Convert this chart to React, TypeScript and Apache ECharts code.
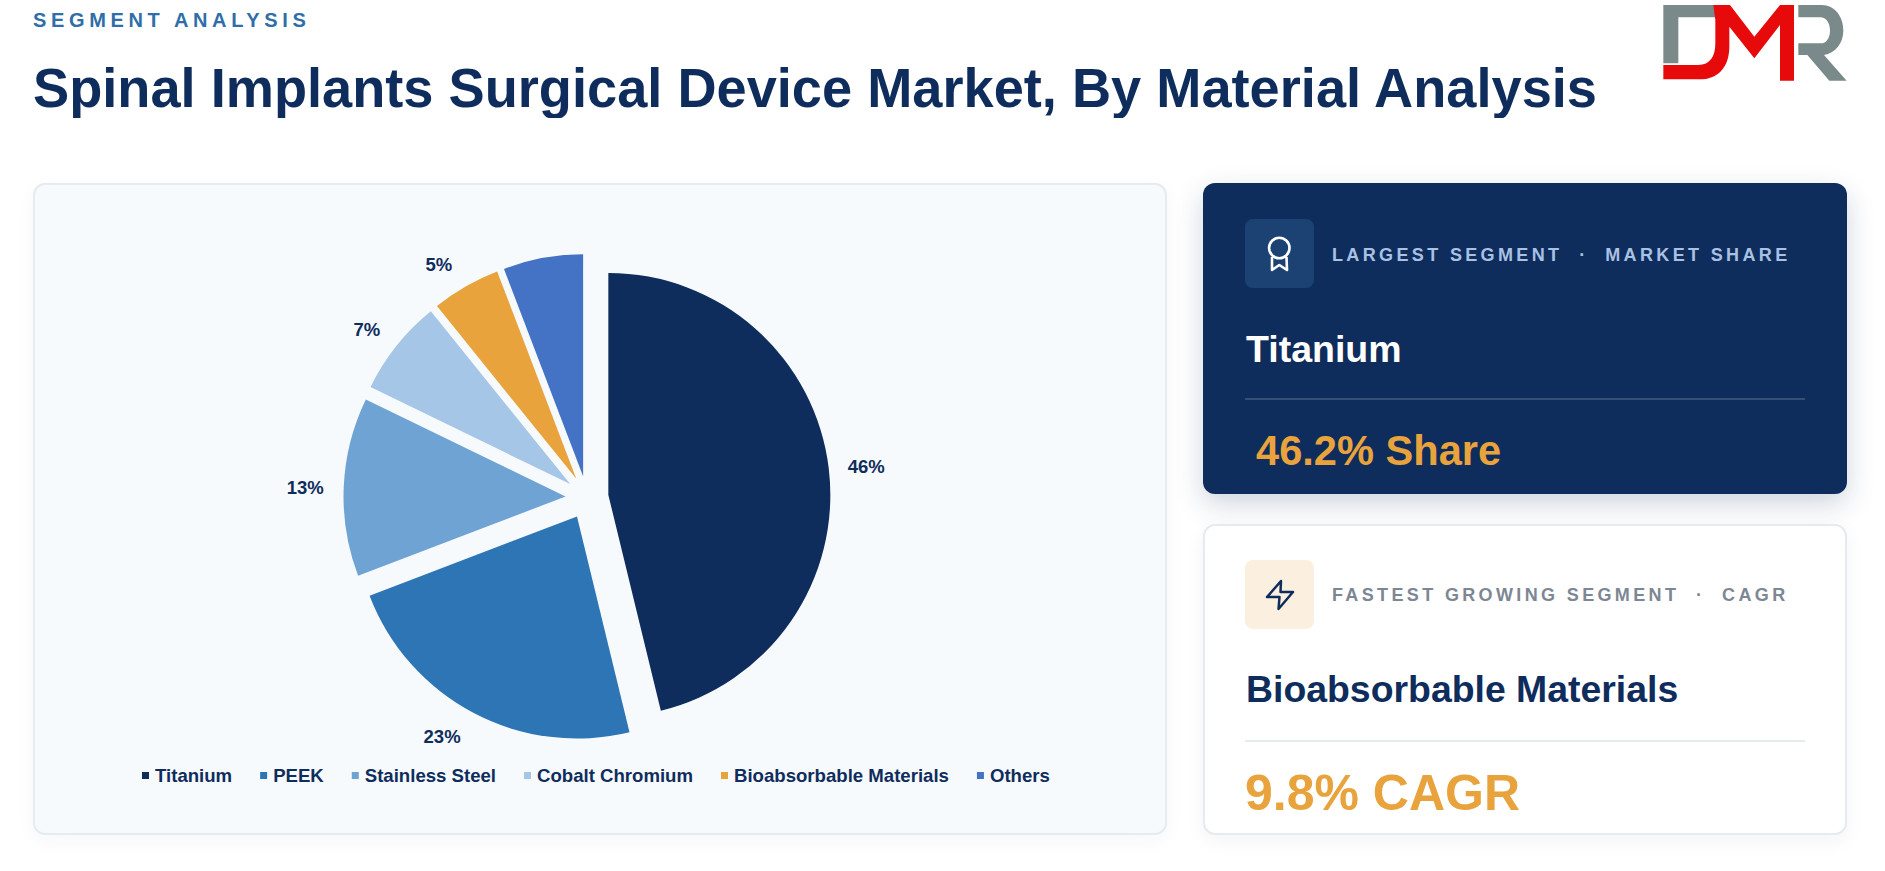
import React, { useEffect, useRef } from "react";
import * as echarts from "echarts";

const categories = ["Titanium", "PEEK", "Stainless Steel", "Cobalt Chromium", "Bioabsorbable Materials", "Others"];
const shares = [46.2, 23, 13, 7, 5, 5.8];
const colors = ["#0f2d5c", "#2e75b6", "#6fa3d4", "#a5c6e6", "#e8a33d", "#4472c4"];
const hiddenLabels = ["Others"];
const labelNudgeX = [-4, 4.5, 3, 4.5, 4.5, 0];
const labelNudgeY = [-1, 15, 1, -10, -13, 0];
const NAVY = "#0f2d5c";
const FONT = '"Liberation Sans", Arial, sans-serif';

const abs = (l: number, t: number, extra: React.CSSProperties = {}): React.CSSProperties => ({
  position: "absolute", left: l, top: t, whiteSpace: "pre", fontFamily: FONT, fontWeight: 700, ...extra,
});
const box = (l: number, t: number, w: number, h: number, extra: React.CSSProperties = {}): React.CSSProperties => ({
  position: "absolute", left: l, top: t, width: w, height: h, boxSizing: "border-box", ...extra,
});

function PieChart() {
  const ref = useRef<HTMLDivElement>(null);
  useEffect(() => {
    const chart = echarts.init(ref.current!, undefined, { renderer: "svg" });
    chart.setOption({
      animation: false,
      legend: {
        data: categories,
        left: 109,
        top: 582,
        padding: 0,
        icon: "rect",
        itemWidth: 7,
        itemHeight: 7,
        itemGap: 28,
        textStyle: { color: NAVY, fontFamily: FONT, fontWeight: 700, fontSize: 18.6, padding: [0, 0, 0, 1] },
        selectedMode: false,
      },
      series: [
        {
          type: "pie",
          center: [554, 313.5],
          radius: [0, 222],
          startAngle: 90,
          clockwise: true,
          selectedMode: "multiple",
          selectedOffset: 21.5,
          percentPrecision: 0,
          avoidLabelOverlap: false,
          label: {
            show: true,
            position: "outside",
            formatter: "{d}%",
            color: NAVY,
            fontFamily: FONT,
            fontWeight: 700,
            fontSize: 18.5,
          },
          labelLine: { show: false, length: 10, length2: 8 },
          labelLayout: (p: { dataIndex: number }) => ({ dx: labelNudgeX[p.dataIndex], dy: labelNudgeY[p.dataIndex] }),
          emphasis: { disabled: true },
          data: categories.map((name, i) => ({
            name,
            value: shares[i],
            selected: true,
            itemStyle: { color: colors[i] },
            label: { show: !hiddenLabels.includes(name) },
          })),
        },
      ],
    });
    return () => chart.dispose();
  }, []);
  return <div ref={ref} style={{ width: 1133, height: 650 }} />;
}

function Logo() {
  return (
    <svg style={{ position: "absolute", left: 1600, top: 0 }} width={285} height={120} viewBox="0 0 855 360">
      <path fill="#7a8a8a" d="M190 15 L345 15 L352 52 L235 52 L235 190 L190 190 Z" />
      <path fill="#e60a0a" d="M340 15 L390 15 L463 110 L540 15 L582 15 L582 242 L540 242 L540 75 L463 175 L388 80 L388 140 C388 205 350 238 300 238 L190 238 L190 195 L295 195 C330 195 346 170 346 130 L346 60 Z" />
      <path fill="#7a8a8a" d="M595 15 L665 15 C705 15 730 50 730 92 C730 130 705 160 672 165 L740 242 L688 242 L622 165 L595 165 L595 130 L662 130 C680 130 690 112 690 92 C690 70 680 52 660 52 L595 52 Z" />
    </svg>
  );
}

export default function App() {
  return (
    <div style={{ position: "absolute", left: 0, top: 0, width: 1885, height: 871, overflow: "hidden", background: "#ffffff" }}>
      <div style={abs(33, 9, { fontSize: 20, lineHeight: "22px", letterSpacing: 4.65, color: "#2f6ea8" })}>SEGMENT ANALYSIS</div>
      <div style={abs(33, 53, { fontSize: 54.2, lineHeight: "68px", color: NAVY, transform: "scaleY(1.03)" })}>Spinal Implants Surgical Device Market, By Material Analysis</div>
      <Logo />

      <div style={box(33, 183, 1134, 652, { background: "#f7fafd", border: "2px solid #e6ebf0", borderRadius: 12, boxShadow: "0 6px 20px rgba(15,45,92,0.04)" })} />
      <div style={box(33, 184, 1133, 650)}><PieChart /></div>

      <div style={box(1203, 183, 644, 311, { background: NAVY, borderRadius: 12, boxShadow: "0 10px 28px rgba(15,45,92,0.2)" })} />
      <div style={box(1245, 219, 69, 69, { background: "#1c4274", borderRadius: 8 })} />
      <svg style={{ position: "absolute", left: 1245, top: 219 }} width={69} height={69} fill="none" stroke="#ffffff" strokeWidth={2.6}>
        <circle cx={34.3} cy={29} r={10.2} />
        <polyline points="27,38 27,51 34.3,46 42,51 41.5,38" strokeLinejoin="round" />
      </svg>
      <div style={abs(1332, 244, { fontSize: 18, lineHeight: "22px", letterSpacing: 3.36, color: "#a9c1e3" })}>LARGEST SEGMENT  ·  MARKET SHARE</div>
      <div style={abs(1246, 326, { fontSize: 37.5, lineHeight: "46px", color: "#ffffff" })}>Titanium</div>
      <div style={box(1245, 398, 560, 2, { background: "rgba(255,255,255,0.16)" })} />
      <div style={abs(1256, 425, { fontSize: 41.6, lineHeight: "52px", color: "#e8a33d" })}>46.2% Share</div>

      <div style={box(1203, 524, 644, 311, { background: "#ffffff", border: "2px solid #e6ebf0", borderRadius: 12, boxShadow: "0 6px 20px rgba(15,45,92,0.05)" })} />
      <div style={box(1245, 560, 69, 69, { background: "#fbf0e0", borderRadius: 8 })} />
      <svg style={{ position: "absolute", left: 1245, top: 560 }} width={69} height={69} fill="none" stroke={NAVY} strokeWidth={2.5}>
        <polygon points="36,21 22,37 34.5,37 33.5,49 48,32 35.5,32" strokeLinejoin="round" />
      </svg>
      <div style={abs(1332, 584, { fontSize: 18, lineHeight: "22px", letterSpacing: 3.36, color: "#7d8794" })}>FASTEST GROWING SEGMENT  ·  CAGR</div>
      <div style={abs(1246, 666, { fontSize: 37.4, lineHeight: "46px", color: NAVY })}>Bioabsorbable Materials</div>
      <div style={box(1245, 740, 560, 2, { background: "#e6ebf0" })} />
      <div style={abs(1245, 763, { fontSize: 50, lineHeight: "60px", color: "#e8a33d" })}>9.8% CAGR</div>
    </div>
  );
}
